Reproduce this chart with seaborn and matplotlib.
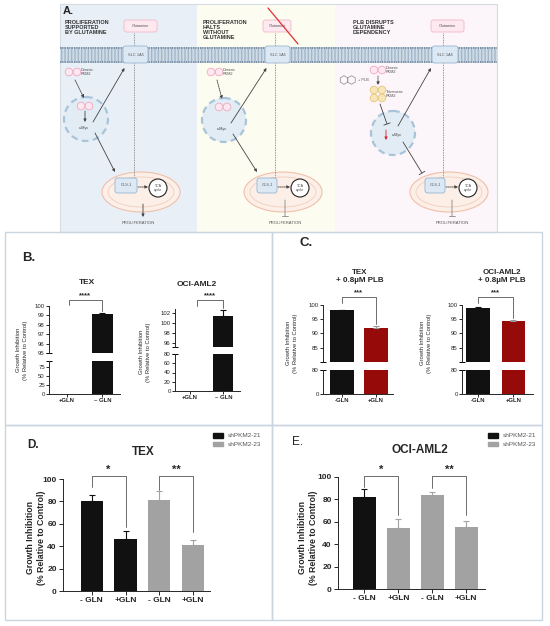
import numpy as np
import pandas as pd
import matplotlib
matplotlib.use("Agg")
import matplotlib.pyplot as plt
import matplotlib.patches as mpatches
import seaborn as sns

sns.set_style("ticks")
plt.rcParams['font.family'] = ['Liberation Sans', 'DejaVu Sans']
plt.rcParams['axes.linewidth'] = 0.7
plt.rcParams['xtick.major.width'] = 0.7
plt.rcParams['ytick.major.width'] = 0.7

# ---- data ----
b_groups = ['+GLN', '– GLN']
b_tex = [0.0, 99.2]
b_tex_err = [0.0, 0.1]
b_oci = [0.0, 101.4]
b_oci_err = [0.0, 1.2]

c_groups = ['-GLN', '+GLN']
c_tex = [98.2, 92.0]
c_tex_err = [0.15, 0.7]
c_oci = [99.0, 94.5]
c_oci_err = [0.15, 0.3]

d_groups = ['- GLN', '+GLN', '- GLN', '+GLN']
d_tex = [80.5, 46.0, 81.5, 41.0]
d_tex_err = [5.5, 7.5, 7.5, 4.5]
e_oci = [82.0, 54.5, 84.0, 55.5]
e_oci_err = [7.0, 8.0, 2.5, 5.5]
shrna = ['shPKM2-21', 'shPKM2-23']

BLACK = '#111111'
GREY = '#a2a2a2'
RED = '#960a0a'
FRAME = '#c9d6df'

W, H = 550, 626
fig = plt.figure(figsize=(W / 100, H / 100), dpi=100)

# background layer in pixel coordinates (schematic, frames, texts)
bg = fig.add_axes([0, 0, 1, 1])
bg.set_xlim(0, W)
bg.set_ylim(H, 0)
bg.axis('off')


def px_ax(x0, y0, x1, y1):
    ax = fig.add_axes([x0 / W, 1 - y1 / H, (x1 - x0) / W, (y1 - y0) / H])
    ax.patch.set_alpha(0)
    return ax


def bars(ax, vals, errs, colors, width):
    keys = [str(i) for i in range(len(vals))]
    df = pd.DataFrame({'key': keys, 'val': vals})
    sns.barplot(data=df, x='key', y='val', hue='key', palette=dict(zip(keys, colors)),
                width=width, errorbar=None, legend=False, saturation=1,
                linewidth=0, ax=ax)
    for i, (v, e, c) in enumerate(zip(vals, errs, colors)):
        if e > 0:
            ax.errorbar(i, v, yerr=[[0], [e]], fmt='none', ecolor=c if c != RED else '#999999',
                        elinewidth=0.8, capsize=2.2, capthick=0.8, zorder=3)


def bracket(ax, x0, x1, y, y0, y1, label, fs):
    ax.plot([x0, x0, x1, x1], [y0, y, y, y1], color='#555555', lw=0.6, clip_on=False)
    ax.annotate(label, (0.5 * (x0 + x1), y), xytext=(0, 0.5), textcoords='offset points',
                ha='center', va='bottom', fontsize=fs, fontweight='bold', annotation_clip=False)


def cap(ax, y):
    ax.plot([0], [y], marker='_', markersize=5, mew=0.7, color='black',
            transform=ax.transAxes, clip_on=False)


def broken(up_box, lo_box, vals, errs, colors, width, up_lim, up_ticks, lo_lim, lo_ticks,
           xlim, labels, fs):
    up = px_ax(*up_box)
    lo = px_ax(*lo_box)
    for ax in (up, lo):
        bars(ax, vals, errs, colors, width)
        ax.set_xlim(*xlim)
        ax.set_xlabel('')
        ax.set_ylabel('')
        ax.tick_params(labelsize=fs, length=2, pad=1)
        sns.despine(ax=ax)
    up.set_ylim(*up_lim)
    up.set_yticks(up_ticks)
    up.spines['bottom'].set_visible(False)
    up.set_xticks([])
    lo.set_ylim(*lo_lim)
    lo.set_yticks(lo_ticks)
    lo.set_xticks(range(len(labels)))
    lo.set_xticklabels(labels, fontsize=fs, fontweight='bold')
    cap(up, 0)
    cap(lo, 1)
    return up, lo


# ---------------- Panel A schematic ----------------
bg.add_patch(mpatches.Rectangle((60, 4), 137, 228, fc='#e9eff7', ec='none'))
bg.add_patch(mpatches.Rectangle((197, 4), 138, 228, fc='#fdfcf1', ec='none'))
bg.add_patch(mpatches.Rectangle((335, 4), 162, 228, fc='#fcf5f9', ec='none'))
bg.add_patch(mpatches.Rectangle((60, 4), 437, 228, fc='none', ec='#d5dde3', lw=0.8))
bg.text(63, 11.5, 'A.', fontsize=8, fontweight='bold', va='center')

# membrane
bg.add_patch(mpatches.Rectangle((60, 47), 437, 16, fc='#cfdbe6', ec='#a3b7c9', hatch='|||||', lw=0))
for yy in (48.2, 61.8):
    bg.plot([60, 497], [yy, yy], color='#7890a8', lw=1.4, ls=(0, (0.6, 0.6)))

titles = [(65, 'PROLIFERATION\nSUPPORTED\nBY GLUTAMINE'),
          (203, 'PROLIFERATION\nHALTS\nWITHOUT\nGLUTAMINE'),
          (353, 'PLB DISRUPTS\nGLUTAMINE\nDEPENDENCY')]
for x, t in titles:
    bg.text(x, 19.5, t, fontsize=4, fontweight='bold', va='top', color='#333333', linespacing=1.05)


def box(x0, x1, y0, y1, text, fc, ec, fs=3):
    bg.add_patch(mpatches.FancyBboxPatch((x0, y0), x1 - x0, y1 - y0,
                                         boxstyle='round,pad=0,rounding_size=2.5',
                                         fc=fc, ec=ec, lw=0.6, zorder=3))
    bg.text(0.5 * (x0 + x1), 0.5 * (y0 + y1), text, fontsize=fs, ha='center', va='center',
            color='#555555', zorder=4)


def arrow(p0, p1, style='-|>', ls='-', color='#444444'):
    bg.annotate('', xy=p1, xytext=p0,
                arrowprops=dict(arrowstyle=style, lw=0.6, color=color, linestyle=ls,
                                mutation_scale=4, shrinkA=0, shrinkB=0), zorder=5)


def dimer(x, y):
    for dx in (-4, 4):
        bg.add_patch(mpatches.Circle((x + dx, y), 3.8, fc='#fde8f0', ec='#f0a9c2', lw=0.6, zorder=4))


secs = [
    dict(glu=(124, 157), slc=(123, 148), dash=134, pk=(73, 72), nuc=(86, 119),
         mito=141, gls=(115, 137), tca=158, prol=138),
    dict(glu=(263, 291), slc=(265, 290), dash=275, pk=(215, 72), nuc=(224, 120),
         mito=283, gls=(257, 277), tca=300, prol=285),
    dict(glu=(431, 464), slc=(432, 458), dash=443, pk=(378, 70), nuc=(393, 133),
         mito=449, gls=(425, 445), tca=468, prol=452),
]
for i, s in enumerate(secs):
    # mitochondrion
    bg.add_patch(mpatches.Ellipse((s['mito'], 192), 78, 40, fc='#fcefe7', ec='#efc0aa', lw=0.8, zorder=2))
    bg.add_patch(mpatches.Ellipse((s['mito'], 192), 66, 30, fc='none', ec='#f2cdbb', lw=0.6, zorder=2))
    # nucleus
    nx, ny = s['nuc']
    bg.add_patch(mpatches.Circle((nx, ny), 22, fc='#e2ecf4', ec='#a8c4d9', lw=1.6,
                                 ls=(0, (3, 2)), zorder=2))
    # dashed transport line
    bg.plot([s['dash'], s['dash']], [33, 177], color='#777777', lw=0.6, ls=(0, (1, 1)), zorder=2)
    box(s['glu'][0], s['glu'][1], 20, 32, 'Glutamine', '#fde9ef', '#f2b8c8', fs=2.8)
    box(s['slc'][0], s['slc'][1], 46, 63, 'SLC 1A5', '#dce9f5', '#98b6d1', fs=2.8)
    box(s['gls'][0], s['gls'][1], 178, 193, 'GLS-1', '#dce9f5', '#98b6d1', fs=2.8)
    bg.add_patch(mpatches.Circle((s['tca'], 188), 9, fc='white', ec='#222222', lw=0.8, zorder=3))
    bg.text(s['tca'], 188, 'TCA\ncycle', fontsize=2.6, ha='center', va='center', zorder=4,
            color='#444444', linespacing=1.0)
    arrow((s['gls'][1] + 1, 187), (s['tca'] - 10, 187), ls=(0, (1.5, 1)))
    px, py = s['pk']
    dimer(px, py)
    bg.text(px + 8, py, 'Dimeric\nPKM2', fontsize=2.8, va='center', color='#555555', linespacing=1.0)
    bg.text(s['prol'], 223, 'PROLIFERATION', fontsize=3, ha='center', va='center', color='#555555')
    sx = 0.5 * (s['slc'][0] + s['slc'][1])
    if i == 0:
        arrow((s['prol'] + 5, 204), (s['prol'] + 5, 217))
    else:
        arrow((s['prol'], 200), (s['prol'], 216), style='|-|, widthA=0, widthB=0.6', color='#888888')
    if i < 2:
        dimer(nx - 1, ny - 13)
        bg.text(nx - 2, ny + 9, 'c-Myc', fontsize=2.8, ha='center', va='center', color='#444444')
        arrow((px + 2, py + 8), (nx - 2, ny - 21), ls=(0, (1.5, 1)))
        arrow((nx + 7, ny + 3), (sx - 11, 68))
        arrow((nx + 9, ny + 14), (s['gls'][0], 172))
    if i == 0:
        arrow((nx - 1, ny - 8), (nx - 1, ny + 3))

# section 3 extras
nx, ny = secs[2]['nuc']
for dx, dy in [(-4, 90), (4, 90), (-4, 98), (4, 98)]:
    bg.add_patch(mpatches.Circle((378 + dx, dy), 3.8, fc='#f7e6b8', ec='#e6c57c', lw=0.6, zorder=4))
bg.text(386, 94, 'Tetrameric\nPKM2', fontsize=2.8, va='center', color='#555555', linespacing=1.0)
arrow((378, 76), (378, 85), ls=(0, (1.5, 1)))
for hx in (344, 351.5):
    bg.add_patch(mpatches.RegularPolygon((hx, 80), 6, radius=4.3, fc='none', ec='#888888', lw=0.5))
bg.text(358, 80, '+ PLB', fontsize=2.8, va='center', color='#555555')
arrow((380, 104), (387, 124), style='|-|, widthA=0, widthB=0.6')
arrow((398, 126), (431, 68))
arrow((403, 142), (422, 173), style='|-|, widthA=0, widthB=0.6')
arrow((386, 130), (386, 140), color='#dd2222')
bg.text(397, 135, 'c-Myc', fontsize=2.8, ha='center', va='center', color='#444444')
bg.plot([268, 298], [8, 44], color='#e03030', lw=0.9, zorder=6)

# ---------------- frames for B-E ----------------
for (x0, y0, x1, y1) in [(5, 232, 272, 425), (272, 232, 542, 425),
                         (5, 425, 272, 620), (272, 425, 542, 620)]:
    bg.add_patch(mpatches.Rectangle((x0, y0), x1 - x0, y1 - y0, fc='none', ec=FRAME, lw=1))

# ---------------- Panel B ----------------
bg.text(22, 258, 'B.', fontsize=9.5, fontweight='bold', va='center')
ylab = 'Growth Inhibition\n(% Relative to Control)'

up, lo = broken((49, 306, 120, 353), (49, 361, 120, 394), b_tex, b_tex_err, [BLACK, BLACK], 0.6,
                (95, 100), [95, 96, 97, 98, 99, 100], (0, 92), [0, 25, 50, 75], (-0.5, 1.5),
                b_groups, 4.3)
bracket(up, 0.05, 1.0, 100.65, 100.1, 99.45, '****', 5.5)
bg.text(87, 282, 'TEX', fontsize=6, fontweight='bold', ha='center', va='center')
bg.text(22, 350, ylab, fontsize=4.2, rotation=90, ha='center', va='center', linespacing=1.4)

up, lo = broken((175, 309, 240, 347), (175, 354, 240, 391), b_oci, b_oci_err, [BLACK, BLACK], 0.6,
                (95.2, 102.8), [96, 98, 100, 102], (0, 80), [0, 20, 40, 60, 80], (-0.45, 1.5),
                b_groups, 4.3)
bracket(up, 0.2, 1.0, 104.6, 103.4, 103.0, '****', 5.5)
bg.text(197, 285, 'OCI-AML2', fontsize=6, fontweight='bold', ha='center', va='center')
bg.text(145, 352, ylab, fontsize=4.2, rotation=90, ha='center', va='center', linespacing=1.4)

# ---------------- Panel C ----------------
bg.text(300, 243, 'C.', fontsize=9.5, fontweight='bold', va='center')
up, lo = broken((323, 305, 393, 362), (323, 370, 393, 394), c_tex, c_tex_err, [BLACK, RED], 0.7,
                (80, 100), [85, 90, 95, 100], (0, 80), [0, 80], (-0.55, 1.5), c_groups, 4.3)
bracket(up, 0.0, 1.0, 102.8, 100.7, 93.2, '***', 5.5)
bg.text(360, 276, 'TEX\n+ 0.8µM PLB', fontsize=5.8, fontweight='bold', ha='center', va='center',
        linespacing=1.2)
bg.text(292, 343, ylab, fontsize=4.2, rotation=90, ha='center', va='center', linespacing=1.4)

up, lo = broken((462, 305, 533, 362), (462, 370, 533, 394), c_oci, c_oci_err, [BLACK, RED], 0.65,
                (80, 100), [85, 90, 95, 100], (0, 80), [0, 80], (-0.45, 1.55), c_groups, 4.3)
bracket(up, 0.0, 1.0, 102.8, 100.7, 95.5, '***', 5.5)
bg.text(502, 276, 'OCI-AML2\n+ 0.8µM PLB', fontsize=5.8, fontweight='bold', ha='center', va='center',
        linespacing=1.2)
bg.text(426, 343, ylab, fontsize=4.2, rotation=90, ha='center', va='center', linespacing=1.4)


# ---------------- Panels D and E ----------------
def grouped(box_px, vals, errs, colors, xlim, pairs, title, tx, ty, lx, ly, legx):
    ax = px_ax(*box_px)
    bars(ax, vals, errs, colors, 0.66)
    ax.set_xlim(*xlim)
    ax.set_ylim(0, 100)
    ax.set_yticks(range(0, 101, 20))
    ax.set_xticks(range(len(d_groups)))
    ax.set_xticklabels(d_groups)
    ax.set_xlabel('')
    ax.set_ylabel('')
    ax.tick_params(labelsize=6, length=3, pad=1.5)
    for t in ax.get_xticklabels() + ax.get_yticklabels():
        t.set_fontweight('bold')
    sns.despine(ax=ax)
    for (x0, x1, y, y0, y1, lab) in pairs:
        bracket(ax, x0, x1, y, y0, y1, lab, 8)
    bg.text(tx, ty, title, fontsize=8.5, fontweight='bold', ha='center', va='center')
    bg.text(lx, ly, ylab, fontsize=6.3, fontweight='bold', rotation=90, ha='center', va='center',
            linespacing=1.3)
    handles = [mpatches.Patch(color=BLACK), mpatches.Patch(color=GREY)]
    leg = ax.legend(handles, shrna, loc='upper left', bbox_to_anchor=(legx / W, 1 - 427 / H),
                    bbox_transform=fig.transFigure, frameon=False, fontsize=4.6,
                    handlelength=1.6, handleheight=0.8, handletextpad=0.8, labelspacing=0.5)
    for t in leg.get_texts():
        t.set_color('#555555')
    return ax


bg.text(27, 445, 'D.', fontsize=8.5, fontweight='bold', va='center')
grouped((63, 479, 210, 591), d_tex, d_tex_err, [BLACK, BLACK, GREY, GREY], (-0.85, 3.5),
        [(0, 1, 102.7, 92.9, 57.1, '*'), (2, 3, 102.7, 90.2, 52.7, '**')],
        'TEX', 143, 452, 36, 538, 207)

bg.text(292, 442, 'E.', fontsize=8.5, va='center')
grouped((338, 477, 485, 589), e_oci, e_oci_err, [BLACK, GREY, GREY, GREY], (-0.78, 3.55),
        [(0, 1, 101.0, 91.0, 66.0, '*'), (2, 3, 101.0, 90.0, 66.0, '**')],
        'OCI-AML2', 420, 450, 308, 538, 482)

fig.savefig('out.png', dpi=100)
